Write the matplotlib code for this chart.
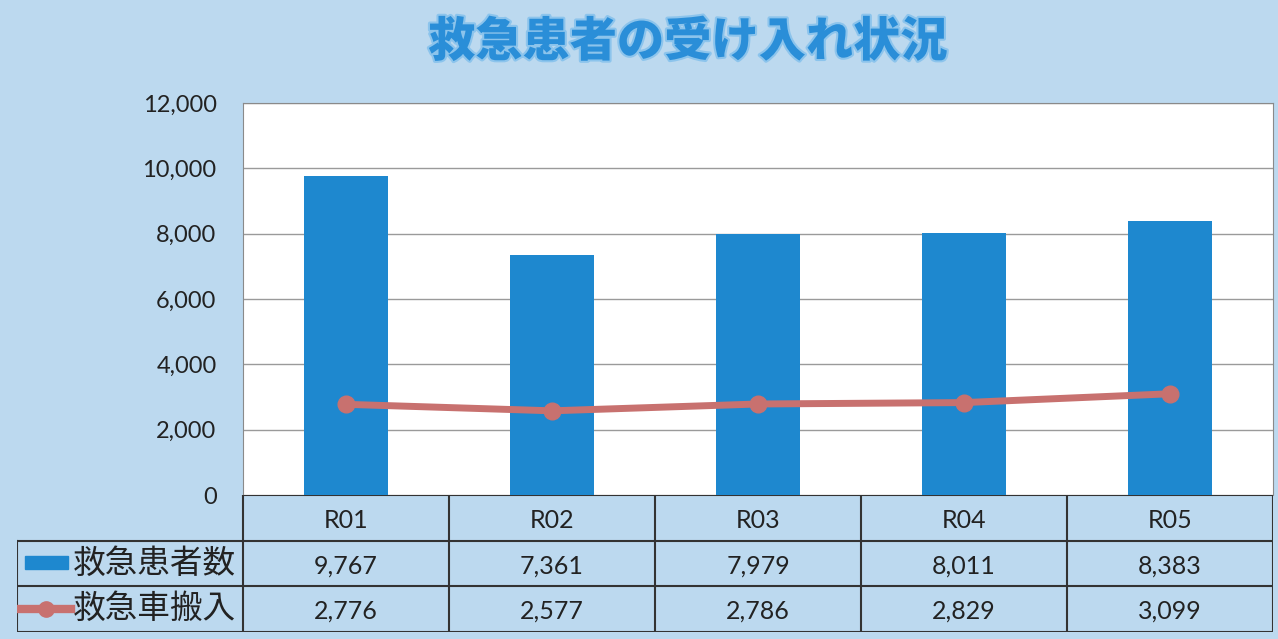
import matplotlib.pyplot as plt
import matplotlib.patheffects as pe
from matplotlib.lines import Line2D
from matplotlib.patches import Rectangle

plt.rcParams['font.family'] = ['Noto Sans CJK JP', 'DejaVu Sans']

years = ["R01", "R02", "R03", "R04", "R05"]
patients = [9767, 7361, 7979, 8011, 8383]
ambulance = [2776, 2577, 2786, 2829, 3099]
series_names = ["救急患者数", "救急車搬入"]
title = "救急患者の受け入れ状況"

bg = "#bcd9ef"
bar_color = "#1e88cf"
line_color = "#c8716f"
edge = "#333333"

fig = plt.figure(figsize=(12.78, 6.39), dpi=100, facecolor=bg)

W, H = 1278, 639
ax = fig.add_axes([243 / W, 1 - 495 / H, 1030 / W, 392 / H])
ax.set_facecolor("white")
x = list(range(len(years)))
ax.bar(x, patients, width=0.41, color=bar_color, zorder=2)
ax.plot(x, ambulance, color=line_color, lw=5, marker="o", ms=12, zorder=3)
ax.set_xlim(-0.5, len(years) - 0.5)
ax.set_ylim(0, 12000)
ax.set_yticks(range(0, 12001, 2000))
ax.set_yticklabels([f"{v:,}" for v in range(0, 12001, 2000)], fontsize=17,
                   family=["Lato", "DejaVu Sans"], color="#222222")
ax.tick_params(axis="y", length=0, pad=19)
ax.set_xticks([])
ax.grid(axis="y", color="#9a9a9a", lw=1, zorder=1)
for s in ["left", "right", "top"]:
    ax.spines[s].set_color("#8a8a8a")
ax.spines["bottom"].set_visible(False)

# data table under the plot
tx0 = -0.5 - 226 / 206
tb = fig.add_axes([17 / W, 1 - 632 / H, 1256 / W, 137 / H])
tb.set_xlim(tx0, len(years) - 0.5)
tb.set_ylim(3, 0)
tb.axis("off")
tb.patch.set_alpha(0)
lw = 1.5
tb.plot([-0.5, len(years) - 0.5], [0, 0], color=edge, lw=lw)
for yy in [1, 2, 3]:
    tb.plot([tx0, len(years) - 0.5], [yy, yy], color=edge, lw=lw)
tb.plot([tx0, tx0], [1, 3], color=edge, lw=lw)
for i in range(len(years) + 1):
    tb.plot([i - 0.5, i - 0.5], [0, 3], color=edge, lw=lw)

num_font = ["Lato", "DejaVu Sans"]
for i, yr in enumerate(years):
    tb.text(i, 0.55, yr, ha="center", va="center", fontsize=18, family=num_font, color="#222222")
    tb.text(i, 1.55, f"{patients[i]:,}", ha="center", va="center", fontsize=18, family=num_font, color="#222222")
    tb.text(i, 2.55, f"{ambulance[i]:,}", ha="center", va="center", fontsize=18, family=num_font, color="#222222")

# legend keys
tb.add_patch(Rectangle((tx0 + 0.04, 1.33), 0.21, 0.3, color=bar_color))
tb.add_line(Line2D([tx0 + 0.02, tx0 + 0.26], [2.5, 2.5], color=line_color, lw=6))
tb.plot([tx0 + 0.14], [2.5], marker="o", ms=11, color=line_color)
tb.text(tx0 + 0.27, 1.5, series_names[0], ha="left", va="center", fontsize=23.5, color="#222222")
tb.text(tx0 + 0.27, 2.5, series_names[1], ha="left", va="center", fontsize=23.5, color="#222222")

fig.text(688 / W, 1 - 42 / H, title, ha="center", va="center", fontsize=34,
         fontweight="black", color="#2a8ed8",
         path_effects=[pe.withStroke(linewidth=3, foreground="#8cc4ec")])

fig.savefig("out.png", dpi=100, facecolor=bg)
